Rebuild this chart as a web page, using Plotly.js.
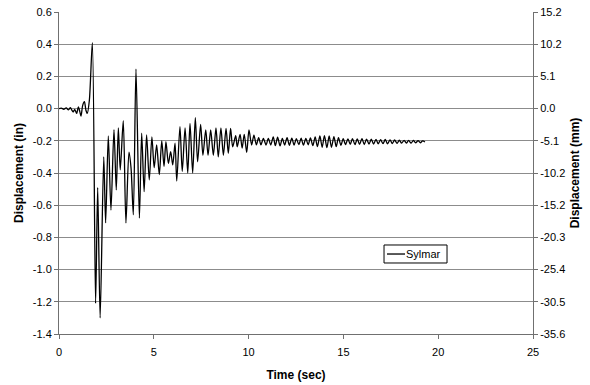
<!DOCTYPE html>
<html>
<head>
<meta charset="utf-8">
<script src="https://cdn.plot.ly/plotly-3.0.1.min.js"></script>
<style>html,body{margin:0;padding:0;background:#fff;}#chart{width:590px;height:385px;}</style>
</head>
<body>
<div id="chart"></div>
<script>
// Time (sec) and displacement (in) (peaks / troughs)
const timeSec = [
  0, 0.12, 0.25, 0.38, 0.5, 0.6, 0.68, 0.75, 0.83, 0.93, 1.02, 1.1, 1.16, 1.25, 1.34, 1.42, 1.49, 1.6, 1.76,
  1.93, 2.04, 2.17, 2.36, 2.46, 2.6, 2.74, 2.9, 3.02, 3.13, 3.23, 3.39, 3.53, 3.69, 3.8, 3.92, 4.06, 4.24,
  4.36, 4.49, 4.62, 4.76, 4.90, 5.02, 5.15, 5.29, 5.42, 5.54, 5.64, 5.77, 5.89, 6.00, 6.12, 6.21, 6.38, 6.50,
  6.65, 6.79, 6.91, 7.05, 7.19, 7.31, 7.47, 7.59, 7.74, 7.86, 8.00, 8.14, 8.28, 8.40, 8.54, 8.67, 8.81, 8.93,
  9.05, 9.16, 9.32, 9.40, 9.55, 9.66, 9.77, 9.90, 10.02, 10.16, 10.28, 10.41, 10.53, 10.65, 10.78, 10.92,
  11.04, 11.17, 11.30, 11.41, 11.53, 11.66, 11.78, 11.90,
  12.03, 12.15, 12.28, 12.40, 12.52, 12.65, 12.77, 12.89, 13.02, 13.14, 13.26, 13.39, 13.51, 13.63, 13.76,
  13.88, 14.00, 14.13, 14.25, 14.37, 14.50, 14.62, 14.74, 14.87, 14.99, 15.11, 15.24, 15.36, 15.48, 15.61,
  15.73, 15.85, 15.98, 16.10, 16.22, 16.35, 16.47, 16.59, 16.72, 16.84, 16.96, 17.09, 17.21, 17.33, 17.46,
  17.58, 17.70, 17.83, 17.95, 18.07, 18.20, 18.32, 18.44, 18.57, 18.69, 18.81, 18.94, 19.06, 19.18, 19.30
];
const dispIn = [
  0, 0.003, -0.004, 0.004, -0.008, 0.006, -0.01, -0.02, -0.005, -0.03, 0.01, -0.02, -0.046, 0.02, 0.043, -0.01, -0.03, 0.05, 0.41,
  -1.21, -0.49, -1.30, -0.30, -0.71, -0.17, -0.63, -0.13, -0.505, -0.12, -0.38, -0.075, -0.71, -0.27, -0.37, -0.66, 0.245, -0.68,
  -0.153, -0.516, -0.164, -0.443, -0.175, -0.367, -0.226, -0.41, -0.20, -0.36, -0.205, -0.34, -0.268, -0.35, -0.215, -0.45, -0.112, -0.39,
  -0.12, -0.40, -0.092, -0.40, -0.056, -0.33, -0.098, -0.29, -0.133, -0.29, -0.133, -0.29, -0.12, -0.30, -0.12, -0.29, -0.123, -0.278,
  -0.123, -0.237, -0.168, -0.237, -0.16, -0.245, -0.16, -0.272, -0.133, -0.226, -0.165, -0.225, -0.18, -0.225, -0.185, -0.226,
  -0.185, -0.226, -0.175, -0.23, -0.178, -0.232, -0.185, -0.226,
  -0.180, -0.228, -0.183, -0.226, -0.186, -0.224, -0.184, -0.227, -0.185, -0.225, -0.182, -0.230, -0.176, -0.236, -0.170,
  -0.240, -0.168, -0.243, -0.170, -0.240, -0.174, -0.236, -0.180, -0.228, -0.186, -0.224, -0.188, -0.222, -0.186, -0.224,
  -0.188, -0.222, -0.187, -0.223, -0.189, -0.221, -0.190, -0.220, -0.192, -0.219, -0.193, -0.218, -0.192, -0.219, -0.194,
  -0.217, -0.195, -0.216, -0.196, -0.215, -0.197, -0.214, -0.198, -0.214, -0.198, -0.213, -0.199, -0.212, -0.200, -0.207
];
const seriesName = "Sylmar";
const xTickVals = [0, 5, 10, 15, 20, 25];
const yTickVals = [0.6, 0.4, 0.2, 0.0, -0.2, -0.4, -0.6, -0.8, -1.0, -1.2, -1.4];
const yTickTextIn = ["0.6", "0.4", "0.2", "0.0", "-0.2", "-0.4", "-0.6", "-0.8", "-1.0", "-1.2", "-1.4"];
const yTickTextMm = ["15.2", "10.2", "5.1", "0.0", "-5.1", "-10.2", "-15.2", "-20.3", "-25.4", "-30.5", "-35.6"];

const FONT = "Liberation Sans, Arial, sans-serif";
const AXIS_COLOR = "#707070";
const GRID_COLOR = "#8c8c8c";

const traces = [
  {
    x: timeSec, y: dispIn, type: "scatter", mode: "lines", name: seriesName,
    line: {color: "#000000", width: 1.3, shape: "spline", smoothing: 0.8},
    hoverinfo: "skip", showlegend: false
  },
  {
    x: [], y: [], type: "scatter", mode: "lines", yaxis: "y2", showlegend: false, hoverinfo: "skip"
  }
];

// Legend box drawn in paper coordinates (plot area spans 59..533 px, 12..334 px)
const legendBox = {x0: 0.6857, x1: 0.8186, y0: 0.2205, y1: 0.2764};
const legendLine = {x0: 0.6920, x1: 0.7300, y: 0.2484};

const layout = {
  width: 590, height: 385,
  margin: {l: 59, r: 57, t: 12, b: 51, pad: 0},
  paper_bgcolor: "#ffffff", plot_bgcolor: "#ffffff",
  font: {family: FONT, size: 11, color: "#000"},
  showlegend: false,
  shapes: [
    {type: "rect", xref: "paper", yref: "paper", x0: legendBox.x0, x1: legendBox.x1, y0: legendBox.y0, y1: legendBox.y1,
     line: {color: "#000", width: 1}, fillcolor: "#fff", layer: "above"},
    {type: "line", xref: "paper", yref: "paper", x0: legendLine.x0, x1: legendLine.x1, y0: legendLine.y, y1: legendLine.y,
     line: {color: "#000", width: 1.3}, layer: "above"}
  ],
  annotations: [
    {text: seriesName, xref: "paper", yref: "paper", x: legendLine.x1, y: legendLine.y,
     xanchor: "left", yanchor: "middle", showarrow: false, xshift: -1,
     font: {family: FONT, size: 11, color: "#000"}}
  ],
  xaxis: {
    range: [0, 25], tickvals: xTickVals, ticktext: xTickVals.map(String),
    showgrid: false, zeroline: false, showline: true, linecolor: AXIS_COLOR, linewidth: 1,
    ticks: "outside", ticklen: 4, tickcolor: AXIS_COLOR, ticklabelstandoff: 4,
    tickfont: {family: FONT, size: 11, color: "#000"},
    title: {text: "Time (sec)", font: {family: FONT, size: 12, color: "#000", weight: "bold"}, standoff: 13},
    fixedrange: true
  },
  yaxis: {
    range: [-1.4, 0.6], tickvals: yTickVals, ticktext: yTickTextIn,
    showgrid: true, gridcolor: GRID_COLOR, gridwidth: 1, zeroline: false,
    showline: true, linecolor: AXIS_COLOR, linewidth: 1,
    ticks: "outside", ticklen: 4, tickcolor: AXIS_COLOR,
    tickfont: {family: FONT, size: 11, color: "#000"},
    title: {text: "Displacement (in)", font: {family: FONT, size: 12, color: "#000", weight: "bold"}, standoff: 6},
    fixedrange: true
  },
  yaxis2: {
    overlaying: "y", side: "right",
    range: [-1.4, 0.6], tickvals: yTickVals, ticktext: yTickTextMm,
    showgrid: false, zeroline: false,
    showline: true, linecolor: AXIS_COLOR, linewidth: 1,
    ticks: "outside", ticklen: 4, tickcolor: AXIS_COLOR,
    tickfont: {family: FONT, size: 11, color: "#000"},
    title: {text: "Displacement (mm)", font: {family: FONT, size: 12, color: "#000", weight: "bold"}, standoff: 6},
    fixedrange: true
  }
};

Plotly.newPlot("chart", traces, layout, {displayModeBar: false, staticPlot: true});
</script>
</body>
</html>
